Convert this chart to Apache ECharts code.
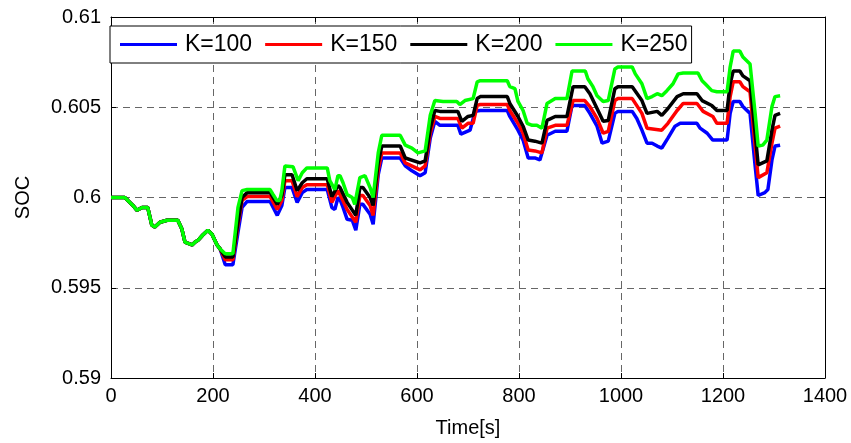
<!DOCTYPE html>
<html>
<head>
<meta charset="utf-8">
<script src="https://cdn.jsdelivr.net/npm/echarts@6/dist/echarts.min.js"></script>
<style>html,body{margin:0;padding:0;background:#fff}#c{width:851px;height:443px}</style>
</head>
<body>
<div id="c"></div>
<script>
const seriesNames = ['K=100', 'K=150', 'K=200', 'K=250'];
const xTicks = [0, 200, 400, 600, 800, 1000, 1200, 1400];
const yTicks = [0.59, 0.595, 0.6, 0.605, 0.61];

// shared initial part (all K identical)
const common = [[0,0.6],[27,0.6],[33,0.59984],[43,0.59956],[51,0.59929],[61,0.59945],[72,0.59945],[80,0.59847],[86,0.59836],[96,0.59863],[110,0.59874],[131,0.59874],[139,0.59825],[145,0.59753],[159,0.59737],[165,0.59753],[171,0.59764],[180,0.59792],[190,0.59819],[198,0.59797],[208,0.59737],[214,0.59715]];

const k100 = [[224,0.59627],[239,0.59627],[249,0.59808],[257,0.59945],[267,0.59978],[312,0.59978],[326,0.59901],[335,0.59956],[341,0.60055],[355,0.60055],[365,0.59973],[375,0.60027],[384,0.60044],[424,0.60044],[433,0.59945],[439,0.59934],[445,0.6],[449,0.59989],[455,0.59945],[463,0.59879],[473,0.59874],[480,0.59819],[488,0.59962],[494,0.59962],[508,0.59907],[514,0.59852],[524,0.60126],[531,0.60219],[567,0.60219],[577,0.60175],[590,0.60148],[606,0.60121],[616,0.60137],[626,0.60329],[635,0.60422],[645,0.604],[680,0.604],[686,0.60351],[704,0.60373],[714,0.60477],[724,0.60482],[777,0.60482],[782,0.60449],[798,0.60373],[808,0.60318],[818,0.60219],[831,0.60219],[841,0.60208],[855,0.60345],[871,0.60367],[894,0.60367],[904,0.6051],[929,0.6051],[939,0.60466],[953,0.60395],[963,0.60301],[975,0.60312],[988,0.60466],[994,0.60477],[1022,0.60477],[1031,0.60438],[1041,0.60373],[1051,0.60301],[1061,0.60301],[1071,0.60285],[1080,0.60274],[1092,0.60329],[1106,0.60395],[1116,0.60411],[1149,0.60411],[1155,0.60384],[1169,0.60356],[1180,0.60318],[1208,0.60318],[1214,0.60466],[1220,0.60532],[1233,0.60532],[1239,0.60504],[1253,0.60466],[1263,0.60175],[1269,0.60011],[1282,0.60027],[1288,0.60044],[1296,0.60208],[1302,0.60285],[1312,0.6029]];

const k150 = [[224,0.59655],[239,0.59655],[249,0.59847],[257,0.59984],[267,0.60005],[312,0.60005],[326,0.59934],[335,0.59984],[341,0.60093],[355,0.60093],[365,0.60005],[375,0.60055],[384,0.60071],[424,0.60071],[433,0.59973],[445,0.60038],[449,0.60016],[463,0.59934],[480,0.59863],[488,0.60011],[494,0.60011],[508,0.59956],[514,0.59901],[524,0.60153],[531,0.60247],[567,0.60247],[577,0.60192],[606,0.60153],[616,0.60175],[626,0.60356],[635,0.60449],[645,0.60438],[680,0.60438],[688,0.60384],[700,0.60411],[710,0.60411],[718,0.6051],[724,0.60515],[777,0.60515],[782,0.60482],[798,0.60411],[808,0.60356],[818,0.60263],[831,0.60258],[845,0.60247],[855,0.60384],[871,0.604],[894,0.604],[906,0.60537],[929,0.60537],[939,0.60504],[953,0.60438],[965,0.60356],[975,0.60367],[988,0.60537],[994,0.60548],[1022,0.60548],[1041,0.60466],[1051,0.60384],[1080,0.60373],[1092,0.60411],[1110,0.60482],[1122,0.60521],[1149,0.60521],[1161,0.60477],[1180,0.60449],[1188,0.60411],[1208,0.60411],[1214,0.60559],[1220,0.60641],[1233,0.60641],[1239,0.60614],[1253,0.60586],[1263,0.60285],[1269,0.6011],[1286,0.60137],[1296,0.60301],[1302,0.60384],[1312,0.60395]];

const k200 = [[224,0.59671],[239,0.59671],[249,0.59863],[257,0.6],[267,0.60027],[312,0.60027],[326,0.59962],[335,0.60011],[341,0.60126],[355,0.60126],[365,0.60038],[375,0.60082],[384,0.60104],[424,0.60104],[433,0.60005],[445,0.60066],[449,0.60055],[463,0.59973],[480,0.59901],[488,0.60055],[494,0.60055],[508,0.6],[514,0.59956],[524,0.60192],[531,0.60285],[567,0.60285],[577,0.60219],[606,0.60192],[616,0.60203],[626,0.60384],[635,0.60482],[645,0.60477],[680,0.60477],[688,0.60422],[700,0.60449],[710,0.60455],[718,0.60548],[724,0.60559],[777,0.60559],[782,0.60521],[798,0.60449],[808,0.60395],[818,0.60318],[831,0.60312],[845,0.60301],[855,0.60427],[871,0.60449],[894,0.60449],[906,0.60614],[929,0.60614],[939,0.60575],[953,0.60493],[965,0.60422],[975,0.60427],[988,0.60603],[994,0.60614],[1022,0.60614],[1041,0.60537],[1051,0.60466],[1071,0.60477],[1080,0.60455],[1092,0.60493],[1110,0.60559],[1122,0.60575],[1149,0.60575],[1159,0.60537],[1178,0.6051],[1188,0.60482],[1208,0.60482],[1214,0.6063],[1220,0.60701],[1233,0.60701],[1239,0.60674],[1253,0.60647],[1263,0.60356],[1269,0.60181],[1286,0.60203],[1296,0.60373],[1302,0.60455],[1312,0.60466]];

const k250 = [[224,0.59688],[239,0.59688],[249,0.59945],[257,0.60038],[267,0.60044],[312,0.60044],[318,0.60016],[325,0.59984],[331,0.59984],[335,0.60038],[341,0.60175],[357,0.6017],[367,0.60093],[375,0.60137],[384,0.60164],[424,0.60164],[429,0.60093],[439,0.60044],[445,0.60121],[449,0.60121],[455,0.60082],[463,0.60016],[473,0.6],[478,0.59962],[488,0.6011],[498,0.60121],[508,0.60055],[514,0.6],[524,0.60247],[531,0.60345],[567,0.60345],[577,0.6029],[590,0.60274],[602,0.60247],[616,0.60258],[626,0.60455],[635,0.60537],[651,0.60532],[678,0.60532],[684,0.60515],[694,0.60537],[710,0.60548],[718,0.60641],[724,0.60647],[777,0.60647],[782,0.60614],[792,0.60603],[798,0.60532],[808,0.60482],[816,0.60411],[826,0.604],[835,0.604],[845,0.60384],[855,0.60521],[871,0.60548],[894,0.60548],[904,0.60701],[930,0.60701],[935,0.60658],[945,0.60614],[953,0.60564],[965,0.60532],[975,0.60537],[988,0.60712],[994,0.60723],[1022,0.60723],[1028,0.60685],[1041,0.6063],[1051,0.60548],[1061,0.60559],[1071,0.60575],[1080,0.60564],[1090,0.60592],[1102,0.6063],[1112,0.60685],[1122,0.6069],[1151,0.6069],[1159,0.60647],[1165,0.6063],[1178,0.60592],[1188,0.60586],[1208,0.60586],[1214,0.60723],[1220,0.60811],[1233,0.60811],[1239,0.60778],[1253,0.6074],[1263,0.60466],[1269,0.60285],[1278,0.6029],[1286,0.60318],[1296,0.60504],[1302,0.60559],[1312,0.60564]];

const colors = ['#0000ff', '#ff0000', '#000000', '#00ff00'];
const allData = [k100, k150, k200, k250];

const FONT = 'Liberation Sans, Arial, sans-serif';
const chart = echarts.init(document.getElementById('c'), null, {renderer: 'canvas'});
const gridLine = {show: true, lineStyle: {color: '#666', type: [7, 5], width: 1}};
const frameLine = {show: true, onZero: false, lineStyle: {color: '#000', width: 1}};
const tick = {show: true, inside: true, length: 5, lineStyle: {color: '#000'}};

chart.setOption({
  animation: false,
  backgroundColor: '#fff',
  color: colors,
  grid: {left: 111, right: 26, top: 17, bottom: 61, containLabel: false},
  legend: {
    data: seriesNames,
    left: 110, top: 26,
    icon: 'rect', itemWidth: 57, itemHeight: 3, itemGap: 13,
    padding: [7, 4, 7, 10],
    borderColor: '#000', borderWidth: 1, backgroundColor: '#fff',
    textStyle: {fontFamily: FONT, fontSize: 23, color: '#000', width: 67, padding: [0, 0, 0, 3]}
  },
  xAxis: [{
    type: 'value', min: xTicks[0], max: xTicks[xTicks.length - 1], interval: 200,
    axisLine: frameLine, axisTick: tick, splitLine: gridLine,
    axisLabel: {color: '#000', fontFamily: FONT, fontSize: 20, margin: 8, formatter: v => String(v)},
    name: 'Time[s]', nameLocation: 'middle', nameGap: 40,
    nameTextStyle: {color: '#000', fontFamily: FONT, fontSize: 20}
  }, {
    type: 'value', position: 'top', min: xTicks[0], max: xTicks[xTicks.length - 1], interval: 200,
    axisLine: frameLine, axisTick: tick, splitLine: {show: false}, axisLabel: {show: false}
  }],
  yAxis: [{
    type: 'value', min: yTicks[0], max: yTicks[yTicks.length - 1], interval: 0.005,
    axisLine: frameLine, axisTick: tick, splitLine: gridLine,
    axisLabel: {color: '#000', fontFamily: FONT, fontSize: 20, margin: 10,
      formatter: v => String(+v.toFixed(3))},
    name: 'SOC', nameLocation: 'middle', nameGap: 78, nameRotate: 90,
    nameTextStyle: {color: '#000', fontFamily: FONT, fontSize: 20}
  }, {
    type: 'value', position: 'right', min: yTicks[0], max: yTicks[yTicks.length - 1], interval: 0.005,
    axisLine: frameLine, axisTick: tick, splitLine: {show: false}, axisLabel: {show: false}
  }],
  series: allData.map((d, i) => ({
    name: seriesNames[i], type: 'line', showSymbol: false, symbol: 'none',
    data: common.concat(d),
    lineStyle: {width: 3.5, color: colors[i]},
    itemStyle: {color: colors[i]},
    z: 2 + i
  }))
});
</script>
</body>
</html>
